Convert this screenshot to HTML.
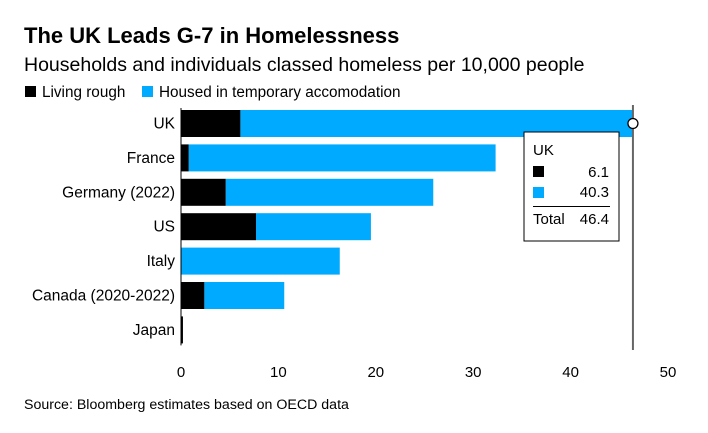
<!DOCTYPE html>
<html><head><meta charset="utf-8"><style>
body{margin:0;background:#fff;font-family:"Liberation Sans",sans-serif}
svg text{font-family:"Liberation Sans",sans-serif}
</style></head><body>
<svg id="c" width="708" height="428" xmlns="http://www.w3.org/2000/svg">
<text x="24" y="43" font-size="22" font-weight="bold" fill="#000">The UK Leads G-7 in Homelessness</text>
<text x="24" y="71" font-size="19.5" fill="#000">Households and individuals classed homeless per 10,000 people</text>
<g>
<rect x="25" y="86" width="11" height="11" fill="#000"/>
<text x="42" y="97" font-size="15.3">Living rough</text>
<rect x="142" y="86" width="11" height="11" fill="#00aaff"/>
<text x="159" y="97" font-size="15.3">Housed in temporary accomodation</text>
</g>
<g id="plot"></g>
<text x="24" y="409" font-size="14.2">Source: Bloomberg estimates based on OECD data</text>
</svg>
<script>
const categories=["UK","France","Germany (2022)","US","Italy","Canada (2020-2022)","Japan"];
const rough=[6.1,0.8,4.6,7.7,0,2.4,0.2];
const temporary=[40.3,31.5,21.3,11.8,16.3,8.2,0];
const ticks=[0,10,20,30,40,50];
const NS="http://www.w3.org/2000/svg";
const g=document.getElementById('plot');
const x=v=>181+v*9.74;
const y=i=>110+i*34.4;
const bh=27;
function el(t,a){const e=document.createElementNS(NS,t);for(const k in a)e.setAttribute(k,a[k]);g.appendChild(e);return e;}
ticks.forEach(t=>{
 const e=el('text',{x:x(t),y:377,'font-size':15,'text-anchor':'middle'});e.textContent=t;
 
 
});
categories.forEach((c,i)=>{
 const l=el('text',{x:175,y:y(i)+bh/2+5,'font-size':15.5,'text-anchor':'end'});l.textContent=c;
 
 
 const a=el('rect',{x:x(0),y:y(i),width:x(rough[i])-x(0),height:bh,fill:'#000'});
 
 
 const b=el('rect',{x:x(rough[i]),y:y(i),width:x(rough[i]+temporary[i])-x(rough[i]),height:bh,fill:'#00aaff'});
 
 
});
const ln=el('rect',{x:x(0)-0.5,y:y(0)-2,width:1,height:y(6)+bh+4-y(0),fill:'#000'});


const tot=rough[0]+temporary[0];
const hv=el('rect',{x:x(tot)-1,y:105,width:2,height:245,fill:'#666'});


const ci=el('circle',{cx:x(tot),cy:y(0)+bh/2,r:5,fill:'#fff',stroke:'#000','stroke-width':1.3});


const tb=el('rect',{x:524,y:132,width:95,height:109,fill:'#fff',stroke:'#000','stroke-width':1});


const tt=el('text',{x:533,y:155,'font-size':15});tt.textContent=categories[0];


const s1=el('rect',{x:533,y:166,width:11,height:11,fill:'#000'});


const v1=el('text',{x:609,y:177,'font-size':15,'text-anchor':'end'});v1.textContent=rough[0].toFixed(1);


const s2=el('rect',{x:533,y:187,width:11,height:11,fill:'#00aaff'});


const v2=el('text',{x:609,y:197,'font-size':15,'text-anchor':'end'});v2.textContent=temporary[0].toFixed(1);


const sep=el('rect',{x:533,y:206,width:77,height:1,fill:'#000'});


const tl=el('text',{x:533,y:224,'font-size':15});tl.textContent='Total';


const tv=el('text',{x:609,y:224,'font-size':15,'text-anchor':'end'});tv.textContent=tot.toFixed(1);


</script>
</body></html>
